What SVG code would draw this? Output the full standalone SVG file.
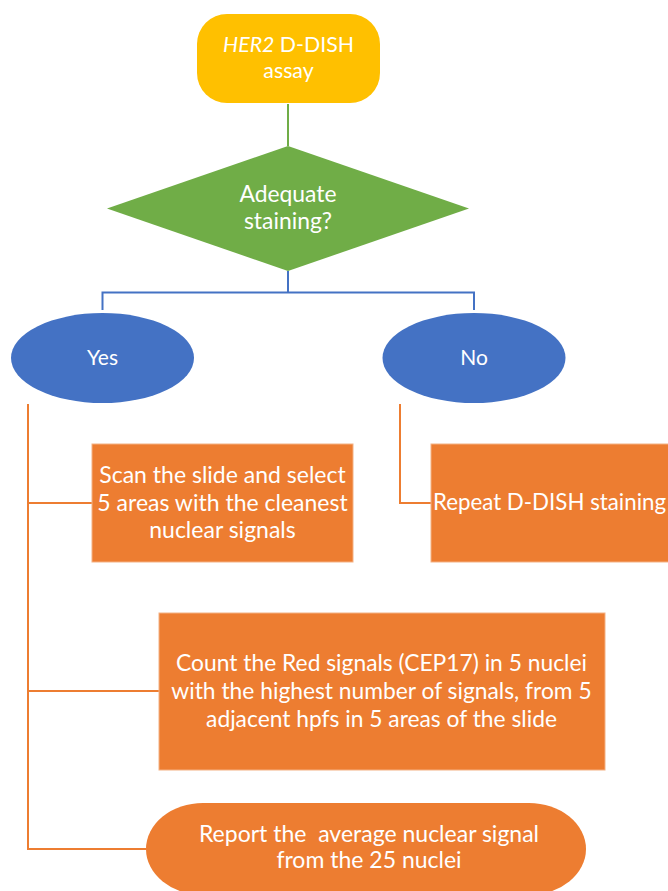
<svg xmlns="http://www.w3.org/2000/svg" width="668" height="891" viewBox="0 0 668 891">
<style>
  .t { font-family: Lato, "Open Sans", "Liberation Sans", sans-serif; fill: #ffffff; text-anchor: middle; font-size: 23px; }
  .s { font-size: 21px; }
  .h { font-size: 21.3px; }
  .d { font-size: 22.9px; }
  .r { font-size: 22.3px; }
  .k { font-size: 22.8px; }
  .c { fill: none; stroke-width: 2; }
  .g { stroke: #70AD47; }
  .b { stroke: #4472C4; }
  .o { stroke: #ED7D31; }
  .box { fill: #ED7D31; stroke: #F4B183; stroke-width: 1; }
</style>
<rect width="668" height="891" fill="#ffffff"/>
<g id="connectors">
  <path class="c g" d="M288 104 V146"/>
  <path class="c b" d="M288 271 V292.5 M102.5 310 V292.5 H474 V310"/>
  <path class="c o" d="M28 404 V849 H146 M28 503 H92 M28 691 H159"/>
  <path class="c o" d="M400 404 V503 H431"/>
</g>
<g id="start">
  <rect x="197" y="14" width="183" height="89" rx="30" ry="30" fill="#FFC000"/>
  <text class="t h" x="288.5" y="52"><tspan font-style="italic">HER2</tspan> D-DISH</text>
  <text class="t h" x="288.5" y="78">assay</text>
</g>
<g id="decision">
  <polygon points="288,146 469,208.5 288,271 107,208.5" fill="#70AD47"/>
  <text class="t d" x="288" y="202">Adequate</text>
  <text class="t d" x="288" y="229">staining?</text>
</g>
<g id="yes">
  <ellipse cx="102.5" cy="358" rx="91.5" ry="45" fill="#4472C4"/>
  <text class="t s" x="102.5" y="365">Yes</text>
</g>
<g id="no">
  <ellipse cx="474" cy="358" rx="91.5" ry="45" fill="#4472C4"/>
  <text class="t s" x="474" y="365">No</text>
</g>
<g id="scan">
  <rect class="box" x="92" y="444" width="261" height="118"/>
  <text class="t" x="222.5" y="483">Scan the slide and select</text>
  <text class="t" x="222.5" y="511">5 areas with the cleanest</text>
  <text class="t" x="222.5" y="538">nuclear signals</text>
</g>
<g id="repeat">
  <rect class="box" x="431" y="444" width="240" height="118"/>
  <text class="t r" x="549.5" y="510">Repeat D-DISH staining</text>
</g>
<g id="count">
  <rect class="box" x="159" y="613" width="446" height="157"/>
  <text class="t k" x="381.5" y="671">Count the Red signals (CEP17) in 5 nuclei</text>
  <text class="t k" x="381.5" y="699">with the highest number of signals, from 5</text>
  <text class="t k" x="381.5" y="727">adjacent hpfs in 5 areas of the slide</text>
</g>
<g id="report">
  <path d="M203 803 H529 A57 46 0 0 1 586 849 A57 46 0 0 1 529 895 H203 A57 46 0 0 1 146 849 A57 46 0 0 1 203 803 Z" fill="#ED7D31"/>
  <text class="t" x="369" y="842" xml:space="preserve">Report the  average nuclear signal</text>
  <text class="t" x="369" y="868">from the 25 nuclei</text>
</g>
</svg>
